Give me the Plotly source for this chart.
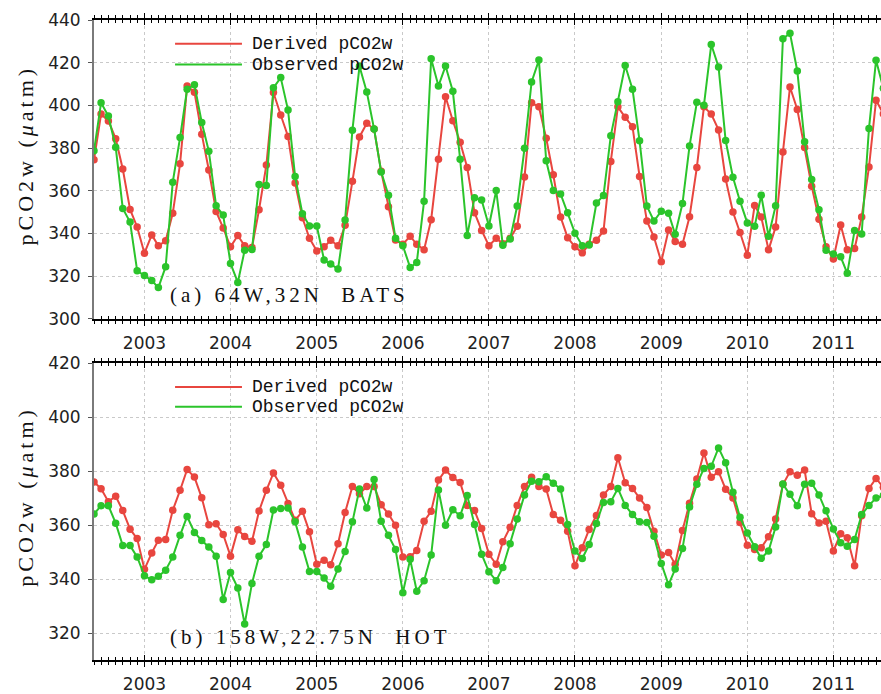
import plotly.graph_objects as go
import pandas as pd

# ---------------- data ----------------
start_month = "2002-06-01"
n_months = 111
months = pd.date_range(start_month, periods=n_months, freq="MS")

bats_derived = [
    374.5, 395.9, 392.7, 384.4, 370.2, 351.2, 343.0, 330.7, 339.3, 334.2, 336.5, 349.4,
    372.6, 409.1, 406.2, 386.5, 369.7, 350.3, 342.5, 333.7, 339.0, 334.2, 333.4, 351.1,
    372.0, 406.0, 395.5, 385.4, 363.6, 347.3, 337.7, 331.8, 333.7, 336.8, 334.2, 343.8,
    364.4, 385.2, 391.6, 388.9, 369.1, 352.5, 336.9, 334.9, 338.7, 334.9, 332.3, 346.4,
    374.8, 404.0, 392.8, 382.7, 370.9, 349.7, 341.4, 334.2, 337.7, 335.2, 337.7, 343.3,
    366.4, 401.2, 399.3, 384.6, 367.5, 347.7, 338.0, 333.7, 330.9, 334.9, 336.8, 341.1,
    373.7, 399.3, 394.4, 390.0, 366.7, 345.8, 338.3, 326.7, 341.6, 336.2, 334.9, 347.8,
    370.9, 399.3, 395.9, 388.5, 365.5, 350.0, 340.4, 329.8, 353.1, 347.7, 332.3, 343.0,
    378.1, 408.6, 398.1, 380.2, 362.1, 346.6, 333.7, 328.0, 343.9, 332.3, 332.9, 347.7,
    371.1, 402.4, 396.0,
]
bats_observed = [
    378.7, 401.2, 395.0, 380.4, 351.7, 345.3, 322.5, 320.3, 317.9, 314.6, 324.4, 364.0,
    384.9, 407.6, 409.6, 392.0, 378.5, 352.9, 348.6, 325.9, 317.0, 332.1, 332.4, 362.9,
    362.4, 408.2, 413.0, 397.8, 366.7, 349.2, 343.5, 343.5, 327.5, 325.6, 323.3, 346.3,
    388.3, 418.3, 406.3, 388.9, 368.8, 357.9, 337.7, 334.2, 324.0, 326.4, 355.1, 421.8,
    409.1, 418.4, 406.6, 374.7, 339.0, 356.7, 355.6, 343.5, 360.1, 334.5, 337.4, 352.8,
    379.9, 411.0, 421.2, 374.0, 360.1, 358.5, 349.7, 340.1, 334.2, 334.6, 354.2, 357.7,
    385.8, 401.7, 418.7, 407.6, 383.4, 352.8, 345.8, 350.4, 349.4, 339.6, 354.0, 381.0,
    401.4, 400.1, 428.5, 418.0, 383.5, 366.3, 355.1, 344.9, 343.3, 357.9, 338.7, 352.9,
    431.2, 433.8, 416.1, 383.0, 365.2, 351.1, 332.1, 330.3, 329.0, 321.3, 341.4, 339.7,
    389.2, 421.1, 408.0,
]
hot_derived = [
    376.0, 373.5, 368.7, 370.7, 365.4, 358.5, 355.0, 343.6, 349.7, 354.4, 354.7, 365.5,
    372.9, 380.6, 377.8, 370.1, 360.1, 360.5, 356.5, 348.5, 358.3, 355.8, 354.0, 365.2,
    372.9, 379.3, 374.8, 368.0, 361.8, 365.1, 357.5, 345.5, 347.0, 345.3, 353.1, 364.7,
    374.3, 371.6, 374.3, 374.3, 367.5, 364.1, 359.9, 348.2, 348.3, 350.6, 361.4, 365.1,
    376.7, 380.4, 377.6, 375.8, 367.3, 365.4, 358.7, 349.2, 345.5, 353.8, 359.2, 367.3,
    374.3, 377.7, 374.3, 373.4, 363.9, 361.8, 357.7, 344.9, 351.6, 358.4, 363.6, 371.2,
    374.3, 385.0, 375.7, 373.6, 370.0, 366.5, 357.7, 348.9, 349.8, 345.5, 358.0, 368.1,
    377.1, 386.7, 377.7, 379.8, 373.3, 370.0, 361.0, 352.5, 351.0, 351.6, 355.7, 362.3,
    375.1, 379.8, 378.5, 380.4, 364.2, 360.8, 361.4, 350.4, 356.8, 355.3, 344.9, 363.5,
    373.6, 377.3, 374.0,
]
hot_observed = [
    364.1, 367.2, 367.2, 360.7, 352.4, 352.4, 348.2, 341.2, 339.7, 341.0, 343.3, 348.2,
    356.2, 363.2, 357.3, 354.3, 351.9, 348.5, 332.4, 342.4, 336.7, 323.3, 338.4, 348.5,
    352.8, 365.6, 366.2, 366.3, 361.2, 351.9, 342.8, 342.8, 340.4, 337.3, 343.7, 350.2,
    361.2, 373.4, 366.3, 376.9, 361.4, 356.2, 351.0, 334.9, 347.3, 335.5, 339.4, 348.9,
    373.0, 359.9, 365.7, 363.5, 371.0, 360.2, 349.2, 342.7, 339.4, 344.3, 353.1, 362.3,
    371.2, 376.3, 376.1, 377.9, 375.5, 373.4, 360.2, 350.4, 347.6, 352.8, 360.6, 368.4,
    368.7, 373.6, 367.3, 363.9, 361.2, 361.0, 355.9, 345.8, 337.9, 343.7, 351.3, 366.7,
    375.1, 381.0, 381.8, 388.6, 383.1, 372.2, 362.9, 357.1, 352.0, 347.7, 350.4, 359.3,
    375.2, 371.4, 367.2, 375.1, 375.5, 371.2, 365.3, 358.6, 353.5, 352.2, 354.7, 363.9,
    367.3, 370.0, 371.0,
]

series_names = ["Derived pCO2w", "Observed pCO2w"]
panel_labels = ["(a) 64W,32N  BATS", "(b) 158W,22.75N  HOT"]
top_yticks = [300, 320, 340, 360, 380, 400, 420, 440]
bot_yticks = [320, 340, 360, 380, 400, 420]
x_range = ["2002-06-01", "2011-07-22"]

# ---------------- style ----------------
RED = "#e8463f"
GREEN = "#2bc42b"
GRID = "#c9c9c9"
TICKFONT = dict(family="DejaVu Sans", size=17, color="#222")
SERIF = "Liberation Serif"
MONO = "Liberation Mono"

fig = go.Figure()

panels = [
    ("x", "y", bats_derived, bats_observed),
    ("x2", "y2", hot_derived, hot_observed),
]
for xa, ya, der, obs in panels:
    for vals, col, name in [(der, RED, series_names[0]), (obs, GREEN, series_names[1])]:
        fig.add_trace(go.Scatter(
            x=months, y=vals, mode="lines+markers", name=name,
            line=dict(color=col, width=2),
            marker=dict(color=col, size=7.5),
            xaxis=xa, yaxis=ya, showlegend=False, cliponaxis=True,
        ))
# empty traces to register the overlay tick axes
fig.add_trace(go.Scatter(x=[], y=[], xaxis="x3", yaxis="y", showlegend=False))
fig.add_trace(go.Scatter(x=[], y=[], xaxis="x4", yaxis="y2", showlegend=False))

top_dom = [0.5332, 1.0]
bot_dom = [0.0, 0.4637]


def xaxis_main(anchor):
    return dict(
        type="date", range=x_range, domain=[0, 1], anchor=anchor,
        showline=True, linecolor="black", linewidth=1.5, mirror="ticks",
        ticks="outside", ticklen=5, tickwidth=1, tickcolor="black",
        dtick="M12", tick0="2003-01-01", tickformat="%Y",
        tickfont=TICKFONT, ticklabelstandoff=3,
        minor=dict(dtick="M1", tick0="2003-01-01", ticks="outside", ticklen=3,
                   tickcolor="black", tickwidth=1, showgrid=False),
        showgrid=True, gridcolor=GRID, griddash="dot", gridwidth=1,
        zeroline=False,
    )


def xaxis_overlay(overlaying, anchor):
    return dict(
        type="date", range=x_range, overlaying=overlaying, anchor=anchor,
        domain=[0, 1],
        showline=False, mirror="ticks", showticklabels=False,
        ticks="inside", ticklen=5, tickwidth=1, tickcolor="black",
        dtick="M12", tick0="2003-01-01",
        minor=dict(dtick="M1", tick0="2003-01-01", ticks="inside", ticklen=3,
                   tickcolor="black", tickwidth=1, showgrid=False),
        showgrid=False, zeroline=False,
    )


def yaxis(domain, anchor, rng, ticks_vals):
    return dict(
        domain=domain, range=rng, anchor=anchor,
        tickmode="array", tickvals=ticks_vals,
        showline=True, linecolor="#7a7a7a", linewidth=2, mirror=False,
        ticks="outside", ticklen=4, tickcolor="#555", tickwidth=1,
        tickfont=TICKFONT, ticklabelstandoff=4,
        showgrid=True, gridcolor=GRID, griddash="dot", gridwidth=1,
        zeroline=False,
    )


fig.update_layout(
    width=881, height=694,
    margin=dict(l=94, r=0, t=20, b=27),
    paper_bgcolor="white", plot_bgcolor="white",
    xaxis=xaxis_main("y"),
    xaxis2=xaxis_main("y2"),
    xaxis3=xaxis_overlay("x", "y"),
    xaxis4=xaxis_overlay("x2", "y2"),
    yaxis=yaxis(top_dom, "x", [300, 440], top_yticks),
    yaxis2=yaxis(bot_dom, "x2", [310, 420], bot_yticks),
    showlegend=False,
)

# legend drawn as shapes + text per panel
shapes = []
annotations = []
for xa, ya, ly1, ly2 in [("x", "y", 0.9205, 0.851), ("x2", "y2", 0.92, 0.853)]:
    for yy, col, name in [(ly1, RED, series_names[0]), (ly2, GREEN, series_names[1])]:
        shapes.append(dict(type="line", xref=f"{xa} domain", yref=f"{ya} domain",
                           x0=0.103, x1=0.188, y0=yy, y1=yy,
                           line=dict(color=col, width=2)))
        annotations.append(dict(text=name, xref=f"{xa} domain", yref=f"{ya} domain",
                                x=0.198, y=yy, xanchor="left", yanchor="middle",
                                showarrow=False,
                                font=dict(family=MONO, size=18, color="#111")))

for (xa, ya, yy), label in zip([("x", "y", 0.0795), ("x2", "y2", 0.0767)], panel_labels):
    annotations.append(dict(text='<span style="letter-spacing:4px">' + label + '</span>',
                            xref=f"{xa} domain", yref=f"{ya} domain", x=0.094, y=yy,
                            xanchor="left", yanchor="middle", showarrow=False,
                            font=dict(family=SERIF, size=21, color="#111")))

ytitle = '<span style="letter-spacing:4px">pCO2w (<i>μ</i>atm)</span>'
for ypix in [157, 502]:
    annotations.append(dict(text=ytitle, xref="paper", yref="paper",
                            x=(26 - 94) / 787, y=(694 - ypix - 27) / 647,
                            xanchor="center", yanchor="middle", textangle=-90,
                            showarrow=False,
                            font=dict(family=SERIF, size=22, color="#111")))

fig.update_layout(shapes=shapes, annotations=annotations)
fig.write_html("out.html")
